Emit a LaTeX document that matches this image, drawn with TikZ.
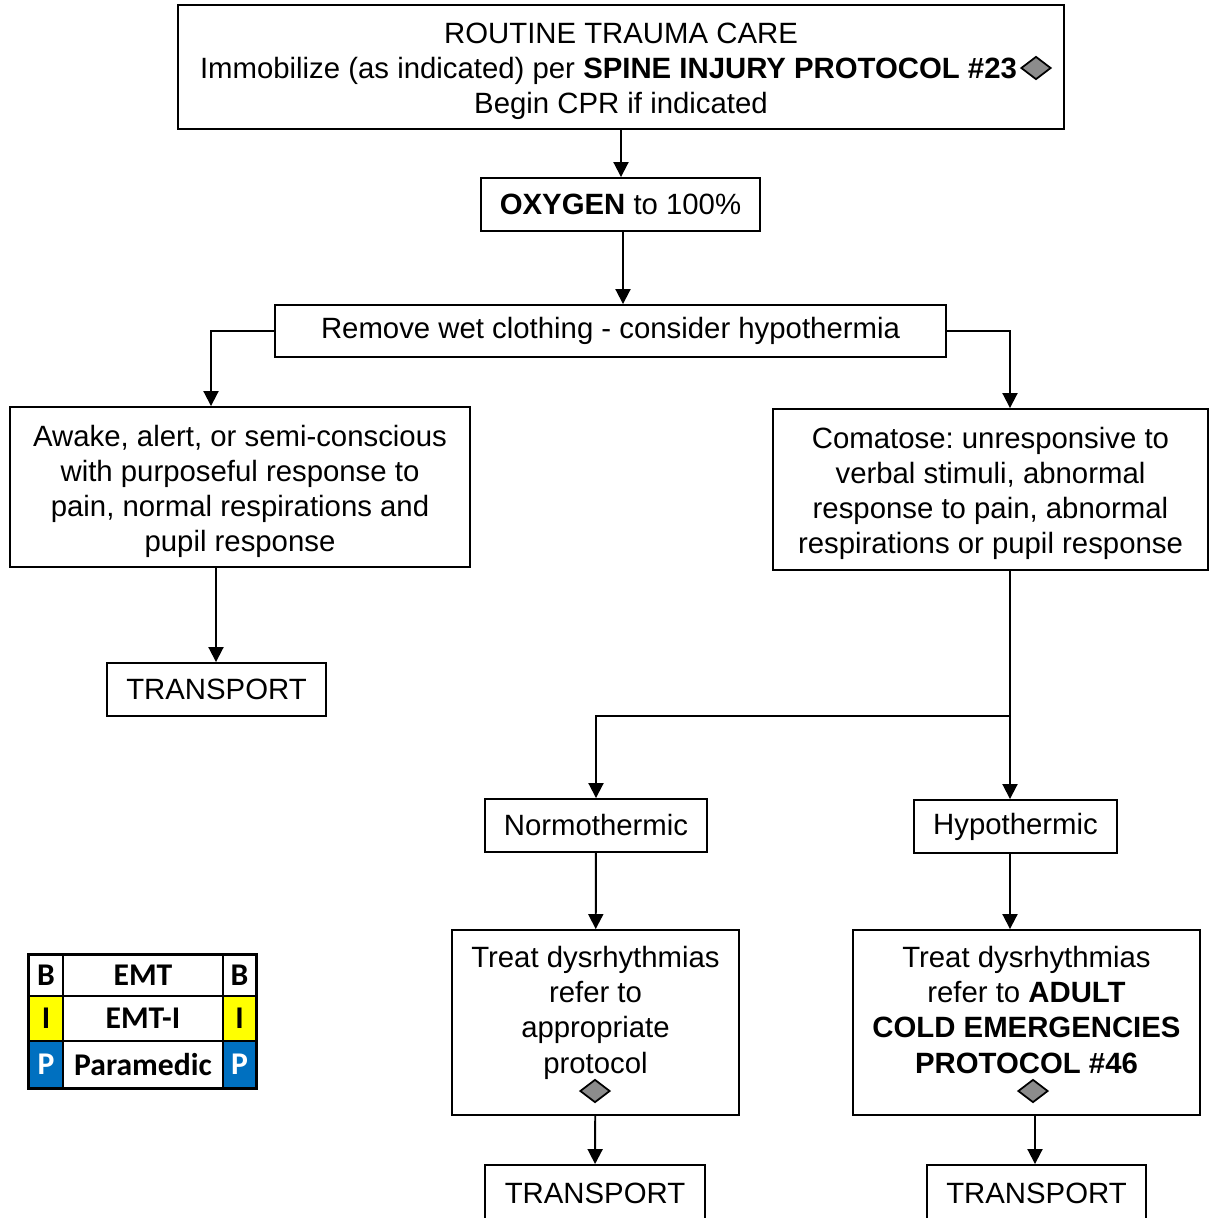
\documentclass[tikz,border=0pt]{standalone}
\usepackage{fontspec}
\setmainfont{Liberation Sans}
\newfontfamily\legendfont{Carlito}
\usetikzlibrary{shapes.geometric,arrows.meta}
\definecolor{legendyellow}{RGB}{255,255,0}
\definecolor{legendblue}{RGB}{0,112,192}
\definecolor{markgray}{RGB}{140,140,140}
\newcommand{\protocolmark}[3]{\node[protodiamond] (#1) at (#2,#3){};}
\newcommand{\topgap}{\rule{0pt}{16.8pt}}
\frenchspacing
\begin{document}
\begin{tikzpicture}
                [x=0.02cm,y=-0.02cm,
                box/.style={rectangle,draw=black,line width=1.1pt,align=center,inner sep=2pt,font=\fontsize{16.7}{20}\selectfont},
                arrow/.style={->,>={Triangle[length=0.3cm,width=0.3cm]},line width=1.1pt},
                protodiamond/.style={diamond,draw=black,fill=markgray,line width=1pt,minimum width=0.6cm,minimum height=0.46cm,inner sep=0pt},
                cell/.style={rectangle,draw=black,line width=1.1pt,inner sep=0pt,font=\legendfont\bfseries\fontsize{18}{20}\selectfont},
                ]
                \useasboundingbox (0,0) rectangle (1209,1218);
                \clip (0,0) rectangle (1209,1218);
                \node[box,minimum width=17.72cm,minimum height=2.48cm] (care) at (621,67) {\topgap ROUTINE TRAUMA CARE\\Immobilize (as indicated) per \textbf{SPINE INJURY PROTOCOL \#23}\rule{0.5cm}{0pt}\\Begin CPR if indicated};
                \protocolmark{carediamond}{1036}{68}
                \node[box,minimum width=5.58cm,minimum height=1.06cm] (oxygen) at (620.5,204.5) {\textbf{OXYGEN} to 100\%};
                \node[box,minimum width=13.42cm,minimum height=1.04cm] (remove) at (610.5,331) {Remove wet clothing - consider hypothermia};
                \node[box,minimum width=9.2cm,minimum height=3.2cm] (awake) at (240,487) {\topgap Awake, alert, or semi-conscious\\with purposeful response to\\pain, normal respirations and\\pupil response};
                \node[box,minimum width=8.7cm,minimum height=3.22cm] (coma) at (990.5,489.5) {\topgap Comatose: unresponsive to\\verbal stimuli, abnormal\\response to pain, abnormal\\respirations or pupil response};
                \node[box,minimum width=4.38cm,minimum height=1.06cm] (transportw) at (216.5,689.5) {TRANSPORT};
                \node[box,minimum width=4.44cm,minimum height=1.06cm] (normo) at (596,825.5) {Normothermic};
                \node[box,minimum width=4.06cm,minimum height=1.06cm] (hypo) at (1015.5,826.5) {Hypothermic};
                \node[box,minimum width=5.74cm,minimum height=3.7cm] (treatn) at (595.5,1022.5) {Treat dysrhythmias\\refer to\\appropriate\\protocol\rule[-14.5pt]{0pt}{0pt}};
                \protocolmark{treatndiamond}{595}{1091}
                \node[box,minimum width=6.94cm,minimum height=3.7cm] (treath) at (1026.5,1022.5) {Treat dysrhythmias\\refer to \textbf{ADULT}\\\textbf{COLD EMERGENCIES}\\\textbf{PROTOCOL \#46}\rule[-14.5pt]{0pt}{0pt}};
                \protocolmark{treathdiamond}{1033}{1091}
                \node[box,minimum width=4.4cm,minimum height=1.12cm] (transportn) at (595,1193) {TRANSPORT};
                \node[box,minimum width=4.38cm,minimum height=1.12cm] (transporth) at (1036.5,1193) {TRANSPORT};
                % certification legend
                \foreach \y/\h/\l/\t/\c/\f [count=\i] in {975.5/0.82/B/EMT/white/black,1018.5/0.9/I/EMT-I/legendyellow/black,1064.5/0.94/P/Paramedic/legendblue/white}{
                    \node[cell,fill=\c,text=\f,minimum width=0.68cm,minimum height=\h cm] (levelw\i) at (46,\y) {\l};
                    \node[cell,minimum width=3.2cm,minimum height=\h cm] (level\i) at (143,\y) {\t};
                    \node[cell,fill=\c,text=\f,minimum width=0.66cm,minimum height=\h cm] (levele\i) at (239.5,\y) {\l};
                }
                \draw[line width=1.6pt] (levelw1.north west) rectangle (levele3.south east);
                % connectors
                \draw[arrow] (care.south) -- (care.south |- oxygen.north);
                \draw[arrow] ([xshift=0.05cm]oxygen.south) -- ([xshift=0.05cm]oxygen.south |- remove.north);
                \draw[arrow] (remove.west) -| ([xshift=-0.58cm]awake.north);
                \draw[arrow] (remove.east) -| ([xshift=0.39cm]coma.north);
                \draw[arrow] ([xshift=-0.01cm]transportw.north |- awake.south) -- ([xshift=-0.01cm]transportw.north);
                \coordinate (split) at (1010,716);
                \draw[arrow] (coma.south -| split) -- (split |- hypo.north);
                \draw[arrow] (split) -| (normo.north);
                \draw[arrow] (normo) -- (treatn);
                \draw[arrow] (hypo.south -| split) -- (split |- treath.north);
                \draw[arrow] (treatn) -- (transportn);
                \draw[arrow] ([xshift=-0.03cm]transporth.north |- treath.south) -- ([xshift=-0.03cm]transporth.north);
            \end{tikzpicture}
\end{document}
